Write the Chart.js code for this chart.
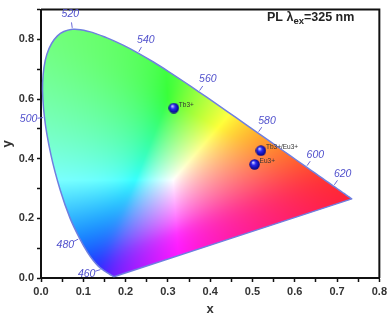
<!DOCTYPE html>
<html><head><meta charset="utf-8">
<script src="https://cdn.jsdelivr.net/npm/chart.js@4.4.0/dist/chart.umd.min.js"></script>
<style>html,body{margin:0;padding:0;background:#fff}canvas{display:block}</style>
</head><body>
<canvas id="cie" width="390" height="317"></canvas>
<script>
// CIE 1931 2-degree spectral locus, 5 nm steps
var wavelengths = [380,385,390,395,400,405,410,415,420,425,430,435,440,445,450,455,460,465,470,475,
  480,485,490,495,500,505,510,515,520,525,530,535,540,545,550,555,560,565,570,575,
  580,585,590,595,600,605,610,615,620,625,630,635,640,645,650,655,660,665,670,675,
  680,685,690,695,700];
var locusX = [0.1741,0.1740,0.1738,0.1736,0.1733,0.1730,0.1726,0.1721,0.1714,0.1703,0.1689,0.1669,0.1644,0.1611,0.1566,0.1510,0.1440,0.1355,0.1241,0.1096,
  0.0913,0.0687,0.0454,0.0235,0.0082,0.0039,0.0139,0.0389,0.0743,0.1142,0.1547,0.1929,0.2296,0.2658,0.3016,0.3373,0.3731,0.4087,0.4441,0.4788,
  0.5125,0.5448,0.5752,0.6029,0.6270,0.6482,0.6658,0.6801,0.6915,0.7006,0.7079,0.7140,0.7190,0.7230,0.7260,0.7283,0.7300,0.7311,0.7320,0.7327,
  0.7334,0.7340,0.7344,0.7346,0.7347];
var locusY = [0.0050,0.0050,0.0049,0.0049,0.0048,0.0048,0.0048,0.0048,0.0051,0.0058,0.0069,0.0086,0.0109,0.0138,0.0177,0.0227,0.0297,0.0399,0.0578,0.0868,
  0.1327,0.2007,0.2950,0.4127,0.5384,0.6548,0.7502,0.8120,0.8338,0.8262,0.8059,0.7816,0.7543,0.7243,0.6923,0.6589,0.6245,0.5896,0.5547,0.5202,
  0.4866,0.4544,0.4242,0.3965,0.3725,0.3514,0.3340,0.3197,0.3083,0.2993,0.2920,0.2859,0.2809,0.2770,0.2740,0.2717,0.2700,0.2689,0.2680,0.2673,
  0.2666,0.2660,0.2656,0.2654,0.2653];
var markedWavelengths = [460, 480, 500, 520, 540, 560, 580, 600, 620];

var sampleNames = ['Tb3+', 'Tb3+/Eu3+', 'Eu3+'];
var sampleX = [0.314, 0.520, 0.505];
var sampleY = [0.570, 0.427, 0.381];

var titleMain = 'PL \u03bb', titleSub = 'ex', titleTail = '=325 nm';

var locusPts = [];
for (var i = 0; i < locusX.length; i++) locusPts.push({x: locusX[i], y: locusY[i]});
locusPts.push({x: locusX[0], y: locusY[0]});
var samplePts = [];
for (var i = 0; i < sampleX.length; i++) samplePts.push({x: sampleX[i], y: sampleY[i]});

function gam(c) {
  c = Math.max(0, Math.min(1, c));
  c = c <= 0.0031308 ? 12.92 * c : 1.055 * Math.pow(c, 1 / 2.4) - 0.055;
  return Math.round(232 * c + 23 * c * c);
}
// xy -> display colour; negatives are soft-clipped, greens washed with white
function xyToRgb(x, y) {
  var X = x / y, Y = 1, Z = (1 - x - y) / y;
  var r = 3.2406 * X - 1.5372 * Y - 0.4986 * Z;
  var g = -0.9689 * X + 1.8758 * Y + 0.0415 * Z;
  var b = 0.0557 * X - 0.2040 * Y + 1.0570 * Z;
  var M = Math.max(r, g, b), neg = -Math.min(0, r, g, b);
  var gw = Math.max(0, g / M);
  var t = 0.4 * neg / (M + neg) * gw * gw, e = 0.1 * M;
  var soft = function (v) { return (v + Math.sqrt(v * v + e * e)) / 2; };
  r = soft(r); g = soft(g); b = soft(b);
  var N = Math.max(r, g, b);
  r /= N; g /= N; b /= N;
  return [gam(t + (1 - t) * r), gam(t + (1 - t) * g), gam(t + (1 - t) * b)];
}

// little blue sphere for the sample points
var sphere = document.createElement('canvas');
sphere.width = 11; sphere.height = 11;
(function () {
  var c = sphere.getContext('2d');
  var gr = c.createRadialGradient(4, 3.5, 0.5, 5.5, 5.5, 5.5);
  gr.addColorStop(0, '#c8c8ff');
  gr.addColorStop(0.35, '#2a2af0');
  gr.addColorStop(1, '#00007a');
  c.fillStyle = gr;
  c.beginPath(); c.arc(5.5, 5.5, 5.2, 0, Math.PI * 2); c.fill();
})();

var gamutFill = {
  id: 'gamutFill',
  beforeDatasetsDraw: function (chart) {
    var a = chart.chartArea, sx = chart.scales.x, sy = chart.scales.y, ctx = chart.ctx;
    var w = Math.round(a.right - a.left), h = Math.round(a.bottom - a.top);
    var off = document.createElement('canvas'); off.width = w; off.height = h;
    var octx = off.getContext('2d'); var img = octx.createImageData(w, h);
    for (var j = 0; j < h; j++) {
      var yv = sy.getValueForPixel(a.top + j + 0.5);
      if (yv <= 0.002) yv = 0.002;
      for (var i = 0; i < w; i++) {
        var xv = sx.getValueForPixel(a.left + i + 0.5);
        var c = xyToRgb(xv, yv), k = (j * w + i) * 4;
        img.data[k] = c[0]; img.data[k + 1] = c[1]; img.data[k + 2] = c[2]; img.data[k + 3] = 255;
      }
    }
    octx.putImageData(img, 0, 0);
    ctx.save(); ctx.beginPath();
    chart.getDatasetMeta(0).dataset.path(ctx);
    ctx.closePath(); ctx.clip();
    ctx.drawImage(off, a.left, a.top);
    ctx.restore();
  }
};

var decorations = {
  id: 'decorations',
  afterDraw: function (chart) {
    var a = chart.chartArea, sx = chart.scales.x, sy = chart.scales.y, ctx = chart.ctx;
    ctx.save();
    // frame top and right
    ctx.strokeStyle = '#111'; ctx.lineWidth = 2;
    ctx.beginPath();
    ctx.moveTo(a.left, a.top); ctx.lineTo(a.right, a.top); ctx.lineTo(a.right, a.bottom);
    ctx.stroke();

    // wavelength marks on the locus
    var wx = sx.getPixelForValue(0.3333), wy = sy.getPixelForValue(0.3333);
    ctx.strokeStyle = '#6a6ad8'; ctx.lineWidth = 1;
    ctx.fillStyle = '#5050cc';
    ctx.font = 'italic 10.5px "Liberation Sans", Arial, sans-serif';
    ctx.textAlign = 'center'; ctx.textBaseline = 'middle';
    markedWavelengths.forEach(function (wl) {
      var k = wavelengths.indexOf(wl);
      var px = sx.getPixelForValue(locusX[k]), py = sy.getPixelForValue(locusY[k]);
      var tx = sx.getPixelForValue(locusX[k + 1]) - sx.getPixelForValue(locusX[k - 1]);
      var ty = sy.getPixelForValue(locusY[k + 1]) - sy.getPixelForValue(locusY[k - 1]);
      var L = Math.hypot(tx, ty), nx = ty / L, ny = -tx / L;
      if (nx * (px - wx) + ny * (py - wy) < 0) { nx = -nx; ny = -ny; }
      if (py + ny * 15 > a.bottom - 6) { ny = 0.3; nx = -0.95; }
      ctx.beginPath();
      ctx.moveTo(px + nx * 1.5, py + ny * 1.5); ctx.lineTo(px + nx * 7, py + ny * 7);
      ctx.stroke();
      ctx.fillText(String(wl), px + nx * 16, py + ny * 15);
    });

    // sample labels
    ctx.fillStyle = '#333'; ctx.textAlign = 'left';
    ctx.font = '6.5px "Liberation Sans", Arial, sans-serif';
    for (var i = 0; i < sampleNames.length; i++) {
      ctx.fillText(sampleNames[i], sx.getPixelForValue(sampleX[i]) + 5, sy.getPixelForValue(sampleY[i]) - 3);
    }

    // title with subscript
    ctx.fillStyle = '#222'; ctx.textBaseline = 'alphabetic';
    var big = 'bold 12.5px "Liberation Sans", Arial, sans-serif', small = 'bold 9.5px "Liberation Sans", Arial, sans-serif';
    var x0 = 267, y0 = 21;
    ctx.font = big; ctx.fillText(titleMain, x0, y0); x0 += ctx.measureText(titleMain).width;
    ctx.font = small; ctx.fillText(titleSub, x0, y0 + 3); x0 += ctx.measureText(titleSub).width;
    ctx.font = big; ctx.fillText(titleTail, x0, y0);
    ctx.restore();
  }
};

var tickFont = {family: '"Liberation Sans", Arial, sans-serif', size: 11, weight: 'bold'};
new Chart(document.getElementById('cie'), {
  type: 'scatter',
  data: {
    datasets: [
      {label: 'locus', data: locusPts, showLine: true, borderColor: '#6f7fe0', borderWidth: 1.5,
        pointRadius: 0, fill: false, tension: 0.35},
      {label: 'samples', data: samplePts, pointStyle: sphere, pointRadius: 5}
    ]
  },
  plugins: [gamutFill, decorations],
  options: {
    responsive: false, animation: false, devicePixelRatio: 1,
    layout: {padding: {left: 0, right: 10, top: 3, bottom: 0}},
    plugins: {legend: {display: false}, tooltip: {enabled: false}},
    scales: {
      x: {
        type: 'linear', min: 0, max: 0.8,
        afterFit: function (s) { s.height = 39; },
        ticks: {stepSize: 0.05, autoSkip: false, maxRotation: 0, padding: 3, color: '#333', font: tickFont,
          callback: function (v) { return Math.round(v * 100) % 10 === 0 ? v.toFixed(1) : ''; }},
        grid: {drawOnChartArea: false, tickLength: 4, color: '#111', tickWidth: 1.5},
        border: {color: '#111', width: 2},
        title: {display: true, text: 'x', color: '#333', padding: {top: 0, bottom: 0},
          font: {family: '"Liberation Sans", Arial, sans-serif', size: 13, weight: 'bold'}}
      },
      y: {
        type: 'linear', min: 0, max: 0.9,
        afterFit: function (s) { s.width = 41; },
        ticks: {stepSize: 0.1, autoSkip: false, padding: 3, color: '#333', font: tickFont,
          callback: function (v) { return Math.round(v * 10) % 2 === 0 ? v.toFixed(1) : ''; }},
        grid: {drawOnChartArea: false, tickLength: 4, color: '#111', tickWidth: 1.5},
        border: {color: '#111', width: 2},
        title: {display: true, text: 'y', color: '#333', padding: {top: 0, bottom: 0},
          font: {family: '"Liberation Sans", Arial, sans-serif', size: 13, weight: 'bold'}}
      }
    }
  }
});
</script>
</body></html>
